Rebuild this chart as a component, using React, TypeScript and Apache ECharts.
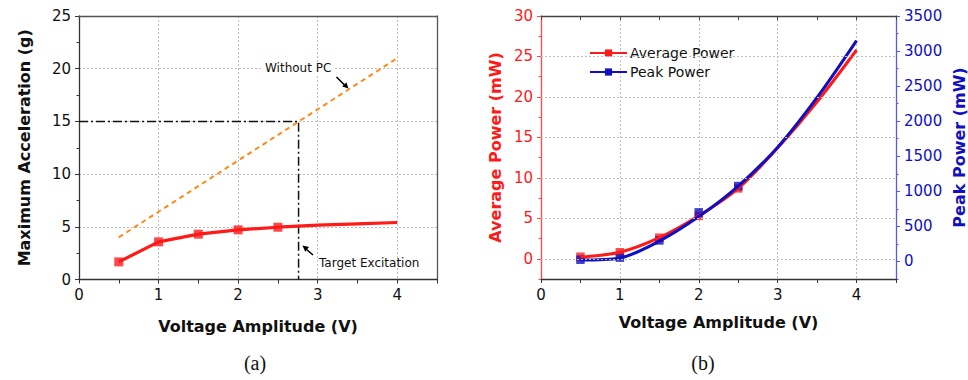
import React, { useEffect, useRef } from 'react';
import * as echarts from 'echarts';

// ---- data ----
const voltage = [0.5, 1, 1.5, 2, 2.5, 3, 3.5, 4];
const markerVoltage = [0.5, 1, 1.5, 2, 2.5];
const maxAccel = [1.67, 3.57, 4.3, 4.71, 4.96, 5.15, 5.28, 5.41];
const maxAccelMarkers = [1.67, 3.57, 4.3, 4.71, 4.96];
const withoutPCVoltage = [0.5, 4];
const withoutPCAccel = [4.0, 21.0];
const targetVoltage = [0, 2.76, 2.76];
const targetAccel = [15, 15, 0];
const avgPower = [0.2, 0.8, 2.6, 5.3, 8.7, 13.7, 19.4, 25.8];
const avgPowerMarkers = [0.25, 0.8, 2.6, 5.3, 8.7];
const peakPower = [20, 50, 290, 640, 1075, 1630, 2340, 3150];
const peakPowerMarkers = [25, 55, 300, 700, 1075];
const avgTicks = [0, 5, 10, 15, 20, 25, 30];
const avgGridLines = [0, 5, 10, 15, 20, 25];
const peakTicks = [0, 500, 1000, 1500, 2000, 2500, 3000, 3500];

const zip = (xs: number[], ys: number[]) => xs.map((x, i) => [x, ys[i]]);

const TICK_FONT = 'DejaVu Sans';
const DARK = '#333333';
const RED = '#ff1a1a';
const BLUE = '#1010c0';
const RED_AXIS = '#ff4a4a';
const BLUE_AXIS = '#5a5ae0';
const GRID_LINE_STYLE = { color: '#bdbdbd', type: [2, 2] as any, width: 1 };
const GRID_LINE = { show: true, lineStyle: GRID_LINE_STYLE };

const xLabelFmt = (v: number) =>
  Math.abs(v - Math.round(v)) < 1e-6 && v <= 4 + 1e-6 ? String(Math.round(v)) : '';

function bottomXAxis(gridIndex: number, gap: number) {
  return {
    type: 'value', gridIndex, position: 'bottom', min: 0, max: 4.5, interval: 0.5,
    axisLine: { show: true, onZero: false, lineStyle: { color: DARK, width: 1.3 } },
    axisTick: { show: true, inside: false, length: 4, lineStyle: { color: DARK } },
    axisLabel: { formatter: xLabelFmt, fontFamily: TICK_FONT, fontSize: 15, color: '#111', margin: 8 },
    splitLine: { show: false },
    name: 'Voltage Amplitude (V)', nameLocation: 'middle', nameGap: gap,
    nameTextStyle: { fontFamily: TICK_FONT, fontWeight: 'bold', fontSize: 16, color: '#111' },
  };
}
function gridXAxis(gridIndex: number) {
  return {
    type: 'value', gridIndex, position: 'bottom', min: 0, max: 4.5, interval: 1,
    axisLine: { show: false, onZero: false }, axisTick: { show: false }, axisLabel: { show: false },
    splitLine: GRID_LINE,
  };
}

export default function App() {
  const ref = useRef<HTMLDivElement>(null);
  useEffect(() => {
    document.body.style.margin = '0';
    const chart = echarts.init(ref.current!, null, { renderer: 'svg' });
    const option: any = {
      animation: false,
      backgroundColor: '#ffffff',
      grid: [
        { left: 79, top: 16, width: 358, height: 263.5, show: false },
        { left: 541, top: 16, width: 358, height: 263, show: false },
      ],
      legend: {
        left: 584, top: 41, orient: 'vertical', itemWidth: 37, itemHeight: 9, itemGap: 5,
        data: ['Average Power', 'Peak Power'],
        textStyle: { fontFamily: TICK_FONT, fontSize: 14, color: '#111', padding: [0, 0, 0, -2] },
      },
      xAxis: [
        bottomXAxis(0, 39),
        gridXAxis(0),
        { type: 'value', gridIndex: 0, position: 'top', min: 0, max: 4.5,
          axisLine: { show: true, onZero: false, lineStyle: { color: '#555', width: 1.3 } },
          axisTick: { show: false }, axisLabel: { show: false }, splitLine: { show: false } },
        bottomXAxis(1, 35),
        gridXAxis(1),
        { type: 'value', gridIndex: 1, position: 'top', min: 0, max: 4.5, interval: 0.5,
          axisLine: { show: true, onZero: false, lineStyle: { color: '#444', width: 1.3 } },
          axisTick: { show: true, inside: true, length: 4, lineStyle: { color: '#444' } },
          axisLabel: { show: false }, splitLine: { show: false } },
      ],
      yAxis: [
        { type: 'value', gridIndex: 0, position: 'left', min: 0, max: 25, interval: 5,
          axisLine: { show: true, onZero: false, lineStyle: { color: DARK, width: 1.3 } },
          axisTick: { show: true, length: 4, lineStyle: { color: DARK } },
          minorTick: { show: true, splitNumber: 2, length: 2.5, lineStyle: { color: DARK } },
          axisLabel: { fontFamily: TICK_FONT, fontSize: 15, color: '#111', margin: 8 },
          splitLine: GRID_LINE,
          name: 'Maximum Acceleration (g)', nameLocation: 'middle', nameGap: 47,
          nameTextStyle: { fontFamily: TICK_FONT, fontWeight: 'bold', fontSize: 16, color: '#111' } },
        { type: 'value', gridIndex: 0, position: 'right', min: 0, max: 25,
          axisLine: { show: true, onZero: false, lineStyle: { color: '#555', width: 1.3 } },
          axisTick: { show: false }, axisLabel: { show: false }, splitLine: { show: false } },
        { type: 'value', gridIndex: 1, position: 'left', min: -2.5, max: 30, interval: 2.5,
          axisLine: { show: true, onZero: false, lineStyle: { color: RED_AXIS, width: 1.3 } },
          axisTick: { show: true, length: 2.5, lineStyle: { color: RED_AXIS } },
          axisLabel: { show: false }, splitLine: { show: false } },
        { type: 'value', gridIndex: 1, position: 'left', min: -2.5, max: 30,
          axisLine: { show: false, onZero: false },
          axisTick: { show: true, length: 4, customValues: avgTicks, lineStyle: { color: RED_AXIS } },
          axisLabel: { customValues: avgTicks, formatter: (v: number) => String(v), fontFamily: TICK_FONT, fontSize: 15, color: RED, margin: 8 },
          splitLine: { show: false },
          name: 'Average Power (mW)', nameLocation: 'middle', nameGap: 38,
          nameTextStyle: { fontFamily: TICK_FONT, fontWeight: 'bold', fontSize: 16, color: RED } },
        { type: 'value', gridIndex: 1, position: 'right', min: -250, max: 3500, interval: 250,
          axisLine: { show: true, onZero: false, lineStyle: { color: BLUE_AXIS, width: 1.3 } },
          axisTick: { show: true, length: 2.5, lineStyle: { color: BLUE_AXIS } },
          axisLabel: { show: false }, splitLine: { show: false } },
        { type: 'value', gridIndex: 1, position: 'right', min: -250, max: 3500,
          axisLine: { show: false, onZero: false },
          axisTick: { show: true, length: 4, customValues: peakTicks, lineStyle: { color: BLUE_AXIS } },
          axisLabel: { customValues: peakTicks, formatter: (v: number) => String(v), fontFamily: TICK_FONT, fontSize: 15, color: BLUE, margin: 8 },
          splitLine: { show: false },
          name: 'Peak Power (mW)', nameLocation: 'middle', nameGap: 55,
          nameTextStyle: { fontFamily: TICK_FONT, fontWeight: 'bold', fontSize: 16, color: BLUE } },
      ],
      series: [
        { type: 'line', name: 'Without PC', xAxisIndex: 0, yAxisIndex: 0, data: zip(withoutPCVoltage, withoutPCAccel),
          showSymbol: false, symbol: 'none', lineStyle: { color: '#ff8a1a', width: 2, type: [5, 4] } },
        { type: 'line', name: 'Target', xAxisIndex: 0, yAxisIndex: 0, data: zip(targetVoltage, targetAccel),
          showSymbol: false, symbol: 'none', lineStyle: { color: '#111', width: 1.5, type: [9, 3, 2, 3] } },
        { type: 'line', name: 'Max Accel', xAxisIndex: 0, yAxisIndex: 0, data: zip(voltage, maxAccel),
          showSymbol: false, symbol: 'none', lineStyle: { color: RED, width: 3.2 } },
        { type: 'scatter', name: 'Max Accel markers', xAxisIndex: 0, yAxisIndex: 0, data: zip(markerVoltage, maxAccelMarkers),
          symbol: 'rect', symbolSize: 9, itemStyle: { color: RED } },
        { type: 'line', name: 'gridlines', xAxisIndex: 3, yAxisIndex: 3, data: [], z: 0, silent: true,
          markLine: { silent: true, symbol: 'none', label: { show: false }, lineStyle: GRID_LINE_STYLE,
            emphasis: { disabled: true }, data: avgGridLines.map((v) => ({ yAxis: v })) } },
        { type: 'line', name: 'Average Power', xAxisIndex: 3, yAxisIndex: 3, data: zip(voltage, avgPower),
          smooth: 0.3, showSymbol: false, symbol: 'rect', lineStyle: { color: RED, width: 3 }, itemStyle: { color: RED } },
        { type: 'scatter', name: 'avg markers', xAxisIndex: 3, yAxisIndex: 3, data: zip(markerVoltage, avgPowerMarkers),
          symbol: 'rect', symbolSize: 8.5, itemStyle: { color: RED } },
        { type: 'line', name: 'Peak Power', xAxisIndex: 3, yAxisIndex: 5, data: zip(voltage, peakPower),
          smooth: 0.3, showSymbol: false, symbol: 'rect', lineStyle: { color: BLUE, width: 3 }, itemStyle: { color: BLUE } },
        { type: 'scatter', name: 'peak markers', xAxisIndex: 3, yAxisIndex: 5, data: zip(markerVoltage, peakPowerMarkers),
          symbol: 'rect', symbolSize: 8.5, itemStyle: { color: BLUE } },
      ],
      graphic: [
        { type: 'text', left: 262, top: 62, z: 10,
          style: { text: 'Without PC', fontFamily: TICK_FONT, fontSize: 12, fill: '#111', backgroundColor: '#fff', padding: [0, 3] } },
        { type: 'line', z: 10, shape: { x1: 336.5, y1: 77, x2: 344.5, y2: 85 }, style: { stroke: '#000', lineWidth: 1.6 } },
        { type: 'polygon', z: 10, shape: { points: [[348.5, 88.5], [346.4, 82.2], [342.2, 86.4]] }, style: { fill: '#000' } },
        { type: 'line', z: 10, shape: { x1: 313, y1: 255, x2: 306, y2: 249 }, style: { stroke: '#000', lineWidth: 1.6 } },
        { type: 'polygon', z: 10, shape: { points: [[302.5, 245.5], [309.0, 247.1], [305.2, 251.7]] }, style: { fill: '#000' } },
        { type: 'text', left: 319, top: 257, z: 10,
          style: { text: 'Target Excitation', fontFamily: TICK_FONT, fontSize: 12, fill: '#111' } },
        { type: 'text', x: 255, y: 363, z: 10,
          style: { text: '(a)', fontFamily: 'Liberation Serif', fontSize: 20, fill: '#111', align: 'center', verticalAlign: 'middle' } },
        { type: 'text', x: 703, y: 363, z: 10,
          style: { text: '(b)', fontFamily: 'Liberation Serif', fontSize: 20, fill: '#111', align: 'center', verticalAlign: 'middle' } },
      ],
    };
    chart.setOption(option);
    return () => chart.dispose();
  }, []);
  return <div ref={ref} style={{ width: 968, height: 380 }} />;
}
